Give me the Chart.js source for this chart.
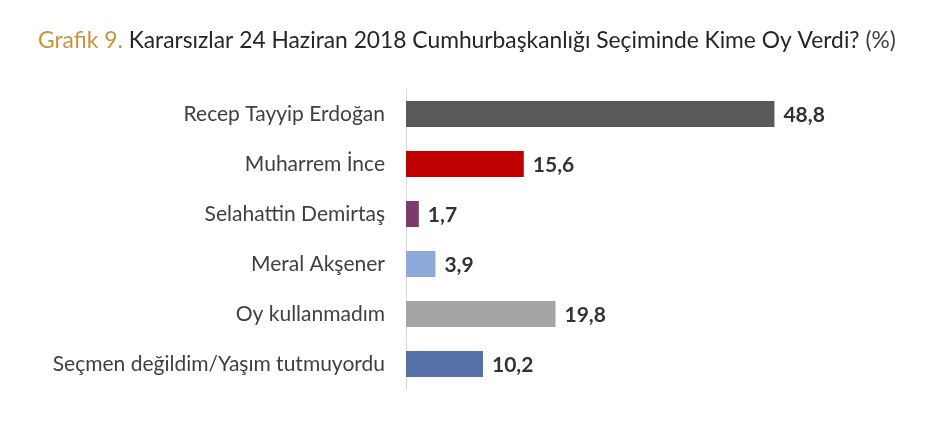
<!DOCTYPE html>
<html>
<head>
<meta charset="utf-8">
<script src="https://cdn.jsdelivr.net/npm/chart.js@4.4.0/dist/chart.umd.min.js"></script>
<style>
  html, body { margin: 0; padding: 0; background: #fff; }
  #wrap { width: 945px; height: 423px; }
</style>
</head>
<body>
<div id="wrap"><canvas id="kararsizChart" width="945" height="423"></canvas></div>
<script>
const categories = [
  'Recep Tayyip Erdoğan',
  'Muharrem İnce',
  'Selahattin Demirtaş',
  'Meral Akşener',
  'Oy kullanmadım',
  'Seçmen değildim/Yaşım tutmuyordu'
];
const values = [48.8, 15.6, 1.7, 3.9, 19.8, 10.2];
const barColors = ['#595959', '#c00000', '#7e3a6c', '#8eaadb', '#a5a5a5', '#5572a8'];

const titleParts = [
  { text: 'Grafik 9. ', color: '#c8943c' },
  { text: 'Kararsızlar 24 Haziran 2018 Cumhurbaşkanlığı Seçiminde Kime Oy Verdi? ', color: '#262626' },
  { text: '(%)', color: '#404040' }
];

// title drawn by hand because it has several colours
const titlePlugin = {
  id: 'titleParts',
  afterDraw(chart) {
    const c = chart.ctx;
    c.save();
    c.font = '22.8px Lato';
    c.textBaseline = 'alphabetic';
    let x = 38;
    titleParts.forEach(p => {
      c.fillStyle = p.color;
      c.fillText(p.text, x, 48);
      x += c.measureText(p.text).width;
    });
    c.restore();
  }
};

// value labels at bar ends, turkish decimal comma
const valuePlugin = {
  id: 'valueLabels',
  afterDatasetsDraw(chart) {
    const c = chart.ctx;
    const meta = chart.getDatasetMeta(0);
    c.save();
    c.font = 'bold 21px Lato';
    c.fillStyle = '#333333';
    c.textBaseline = 'middle';
    meta.data.forEach((bar, i) => {
      c.fillText(values[i].toFixed(1).replace('.', ','), bar.x + 9, bar.y + 1);
    });
    c.restore();
  }
};

const ctx = document.getElementById('kararsizChart').getContext('2d');

const kararsizChart = new Chart(ctx, {
  type: 'bar',
  data: {
    labels: categories,
    datasets: [{
      data: values,
      backgroundColor: barColors,
      borderWidth: 0,
      barPercentage: 0.52,
      categoryPercentage: 1.0
    }]
  },
  options: {
    indexAxis: 'y',
    responsive: false,
    animation: false,
    layout: { padding: { top: 89, bottom: 34, left: 0, right: 86 } },
    plugins: {
      legend: { display: false },
      tooltip: { enabled: false }
    },
    scales: {
      x: {
        display: false,
        min: 0,
        max: 60
      },
      y: {
        grid: { display: false, drawTicks: false },
        border: { display: true, color: '#d9d9d9', width: 1 },
        ticks: {
          color: '#404040',
          font: { family: 'Lato', size: 21 },
          padding: 21
        },
        afterFit(scale) { scale.width = 406; }
      }
    }
  },
  plugins: [titlePlugin, valuePlugin]
});
</script>
</body>
</html>
